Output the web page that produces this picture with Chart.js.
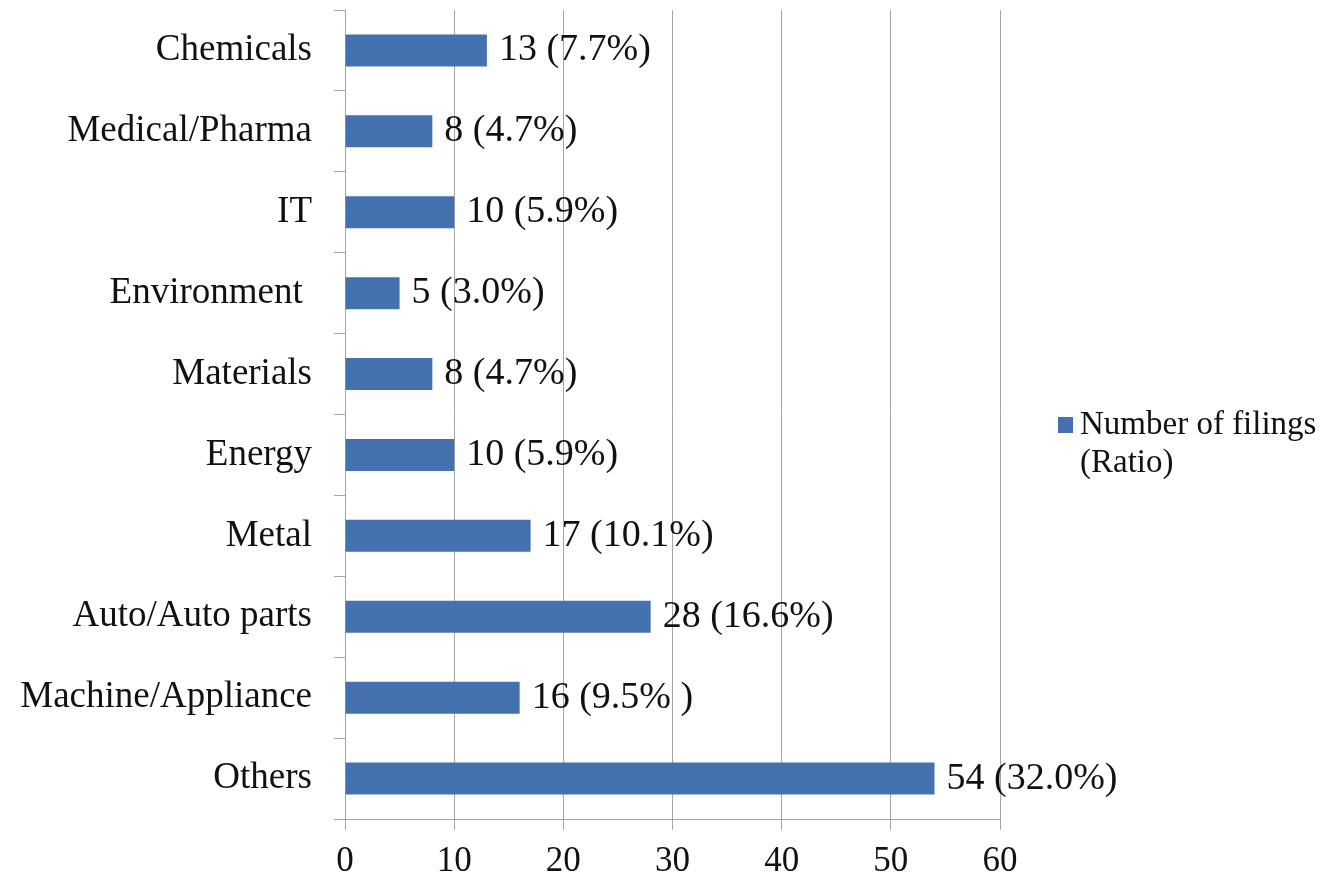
<!DOCTYPE html>
<html>
<head>
<meta charset="utf-8">
<title>Number of filings by industry</title>
<script src="https://cdn.jsdelivr.net/npm/chart.js@4/dist/chart.umd.min.js"></script>
<style>
  html, body { margin: 0; padding: 0; background: #ffffff; }
  #wrap { width: 1324px; height: 880px; position: relative; }
</style>
</head>
<body>
<div id="wrap"><canvas id="chart" width="1324" height="880"></canvas></div>
<script>
// Industries, top to bottom
const categories = [
  'Chemicals', 'Medical/Pharma', 'IT', 'Environment ', 'Materials',
  'Energy', 'Metal', 'Auto/Auto parts', 'Machine/Appliance', 'Others'
];
// Number of filings per industry
const filings = [13, 8, 10, 5, 8, 10, 17, 28, 16, 54];
// Share of all filings, as printed next to each bar
const ratios = ['7.7%', '4.7%', '5.9%', '3.0%', '4.7%', '5.9%', '10.1%', '16.6%', '9.5% ', '32.0%'];
// Value axis ticks
const xTicks = [0, 10, 20, 30, 40, 50, 60];
// Legend text lines
const legendLines = ['Number of filings', '(Ratio)'];

const FONT = "'Liberation Serif', 'Times New Roman', serif";
const BAR = '#4472ae';
const GRID = '#a6a6a6';

// Value + ratio label at the end of each bar
const barLabels = {
  id: 'barLabels',
  afterDatasetsDraw(chart) {
    const ctx = chart.ctx;
    const meta = chart.getDatasetMeta(0);
    ctx.save();
    ctx.font = '38px ' + FONT;
    ctx.fillStyle = '#111111';
    ctx.textAlign = 'left';
    ctx.textBaseline = 'middle';
    meta.data.forEach((bar, i) => {
      ctx.fillText(filings[i] + ' (' + ratios[i] + ')', bar.x + 12, bar.y);
    });
    ctx.restore();
  }
};

// Two-line legend on the right
const sideLegend = {
  id: 'sideLegend',
  afterDraw(chart) {
    const ctx = chart.ctx;
    const ds = chart.data.datasets[0];
    ctx.save();
    ctx.fillStyle = ds.backgroundColor;
    ctx.fillRect(1058, 417, 15, 16);
    ctx.font = '33px ' + FONT;
    ctx.fillStyle = '#111111';
    ctx.textAlign = 'left';
    ctx.textBaseline = 'middle';
    legendLines.forEach((line, i) => {
      ctx.fillText(line, 1080, 425 + i * 38);
    });
    ctx.restore();
  }
};

const whiteBg = {
  id: 'whiteBg',
  beforeDraw(chart) {
    const ctx = chart.ctx;
    ctx.save();
    ctx.fillStyle = '#ffffff';
    ctx.fillRect(0, 0, chart.width, chart.height);
    ctx.restore();
  }
};

new Chart(document.getElementById('chart'), {
  type: 'bar',
  data: {
    labels: categories,
    datasets: [{
      label: legendLines.join(' '),
      data: filings,
      backgroundColor: BAR,
      borderWidth: 0,
      barPercentage: 0.395,
      categoryPercentage: 1.0
    }]
  },
  options: {
    indexAxis: 'y',
    responsive: false,
    animation: false,
    layout: { padding: { top: 10, right: 324, bottom: 0, left: 0 } },
    plugins: {
      legend: { display: false },
      tooltip: { enabled: false },
      title: { display: false }
    },
    scales: {
      x: {
        min: xTicks[0],
        max: xTicks[xTicks.length - 1],
        afterBuildTicks(scale) { scale.ticks = xTicks.map(v => ({ value: v })); },
        afterFit(scale) {
          scale.height = 61;
          scale.paddingLeft = 0;
          scale.paddingRight = 0;
        },
        grid: { color: GRID, lineWidth: 1, tickLength: 11, drawTicks: true },
        border: { color: GRID, width: 1 },
        ticks: {
          font: { family: FONT, size: 35 },
          color: '#111111',
          padding: 11,
          maxRotation: 0
        }
      },
      y: {
        afterFit(scale) {
          scale.width = 345;
          scale.paddingTop = 0;
          scale.paddingBottom = 0;
        },
        grid: { drawOnChartArea: false, color: GRID, tickLength: 11, offset: true },
        border: { color: GRID, width: 1 },
        ticks: {
          font: { family: FONT, size: 37 },
          color: '#111111',
          padding: 22,
          autoSkip: false
        }
      }
    }
  },
  plugins: [whiteBg, barLabels, sideLegend]
});
</script>
</body>
</html>
